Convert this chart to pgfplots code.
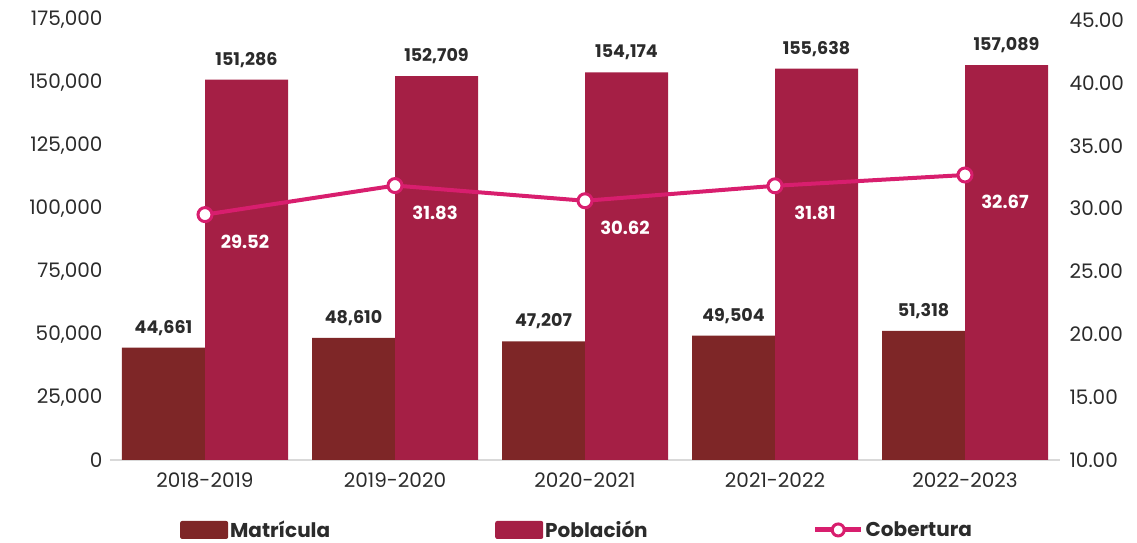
\documentclass[border=0pt]{standalone}
\usepackage{pgfplots}
\pgfplotsset{compat=1.18}
\usepackage{fontspec}
\setmainfont{Poppins}
\definecolor{matc}{HTML}{7E2627}
\definecolor{pobc}{HTML}{A51F45}
\definecolor{cobc}{HTML}{D81E6E}
\definecolor{txt}{HTML}{2B2B2B}
\definecolor{axc}{HTML}{D9D9D9}
\newcommand{\tf}{\fontsize{20pt}{22pt}\selectfont}
\newcommand{\bfl}{\fontsize{17.5pt}{19pt}\selectfont\bfseries}
\begin{document}
\begin{tikzpicture}
\begin{axis}[
  at={(0,0)}, anchor=south west,
  scale only axis, width=950pt, height=440pt,
  xmin=-0.5, xmax=4.5, ymin=0, ymax=175000,
  ybar=0pt, bar width=83pt,
  axis y line*=left, axis x line*=bottom,
  y axis line style={draw=none},
  x axis line style={draw=axc, line width=2pt},
  major tick length=0pt,
  xtick={0,1,2,3,4},
  xticklabels={2018-2019,2019-2020,2020-2021,2021-2022,2022-2023},
  ytick={0,25000,50000,75000,100000,125000,150000,175000},
  scaled y ticks=false,
  /pgf/number format/.cd, fixed, precision=0, 1000 sep={,}, assume math mode=true, /pgfplots/.cd,
  tick label style={font=\tf, text=txt},
  yticklabel style={xshift=-4pt},
  xticklabel style={yshift=-9pt},
  clip=false,
  nodes near coords,
  every node near coord/.append style={font=\bfl, text=txt, inner sep=0pt, anchor=south, yshift=12pt},
]
\addplot[fill=matc, draw=none] coordinates {(0,44661) (1,48610) (2,47207) (3,49504) (4,51318)};
\addplot[fill=pobc, draw=none] coordinates {(0,151286) (1,152709) (2,154174) (3,155638) (4,157089)};
\end{axis}
\begin{axis}[
  at={(0,0)}, anchor=south west,
  scale only axis, width=950pt, height=440pt,
  xmin=-0.5, xmax=4.5, ymin=10, ymax=45,
  axis y line*=right, axis x line=none,
  y axis line style={draw=none},
  major tick length=0pt,
  ytick={10,15,20,25,30,35,40,45},
  /pgf/number format/.cd, fixed, fixed zerofill, precision=2, assume math mode=true, /pgfplots/.cd,
  yticklabel style={font=\tf, text=txt, xshift=6pt},
  clip=false,
  legend style={at={(0.4916,-0.159)}, anchor=center, draw=none, fill=none,
    legend columns=3, font=\fontsize{20pt}{22pt}\selectfont\bfseries, text=txt,
    /tikz/every even column/.append style={column sep=163pt},
    nodes={inner sep=2pt}},
]
\addlegendimage{fill=matc, draw=none, legend image code/.code={\path[fill, rounded corners=2pt] (0pt,-9pt) rectangle (48pt,9pt);}}
\addlegendentry{Matrícula}
\addlegendimage{fill=pobc, draw=none, legend image code/.code={\path[fill, rounded corners=2pt] (0pt,-9pt) rectangle (48pt,9pt);}}
\addlegendentry{Población}
\addplot[color=cobc, line width=4pt, mark=*, mark size=7pt,
  mark options={fill=white, draw=cobc, line width=3pt},
  nodes near coords, point meta=y,
  every node near coord/.append style={font=\fontsize{18pt}{20pt}\selectfont\bfseries, text=white, anchor=center, xshift=40pt, yshift=-27pt},
  legend image code/.code={\draw[line width=5pt] (0pt,0pt) -- (46pt,0pt); \draw[fill=white, line width=3pt] (23pt,0pt) circle (6pt);}
] coordinates {(0,29.52) (1,31.83) (2,30.62) (3,31.81) (4,32.67)};
\addlegendentry{Cobertura}
\end{axis}
\pgfresetboundingbox
\path (-110pt,-83pt) rectangle (1027pt,460pt);
\end{tikzpicture}
\end{document}
